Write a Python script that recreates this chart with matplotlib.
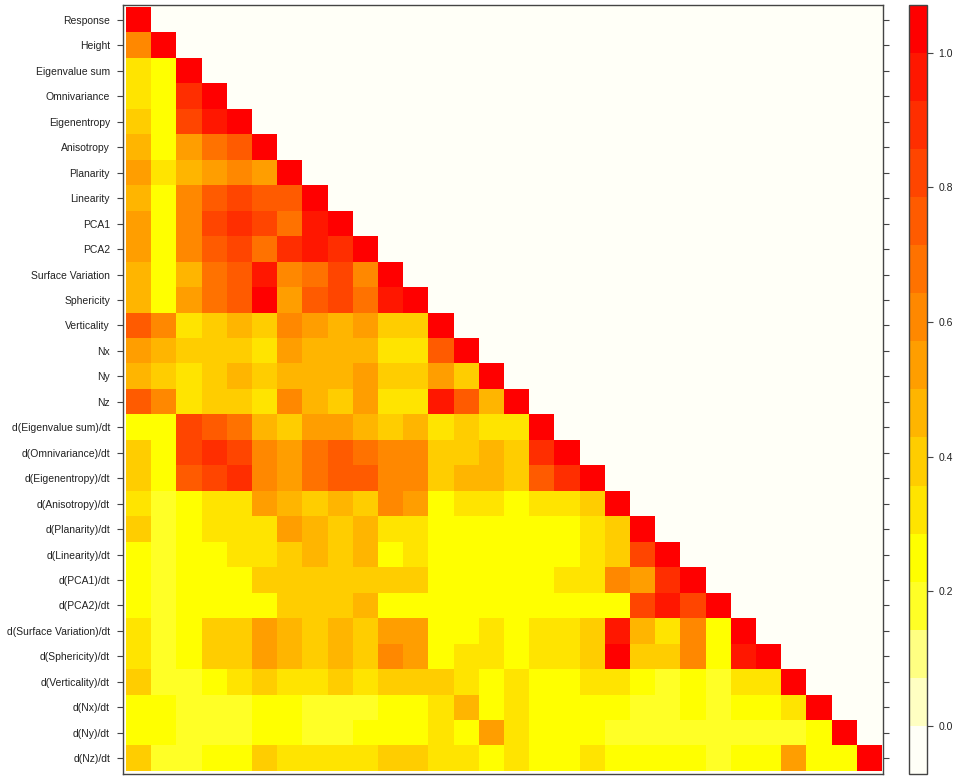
import numpy as np
import matplotlib
matplotlib.use("Agg")
import matplotlib.pyplot as plt
from matplotlib.colors import ListedColormap, BoundaryNorm

plt.rcParams['font.family'] = ['Liberation Sans', 'DejaVu Sans']

variables = [
    "Response", "Height", "Eigenvalue sum", "Omnivariance", "Eigenentropy",
    "Anisotropy", "Planarity", "Linearity", "PCA1", "PCA2",
    "Surface Variation", "Sphericity", "Verticality", "Nx", "Ny", "Nz",
    "d(Eigenvalue sum)/dt", "d(Omnivariance)/dt", "d(Eigenentropy)/dt",
    "d(Anisotropy)/dt", "d(Planarity)/dt", "d(Linearity)/dt", "d(PCA1)/dt",
    "d(PCA2)/dt", "d(Surface Variation)/dt", "d(Sphericity)/dt",
    "d(Verticality)/dt", "d(Nx)/dt", "d(Ny)/dt", "d(Nz)/dt",
]

# lower triangle of the (absolute) correlation matrix, row by row
corr_rows = [
    [1.00],
    [0.61, 1.00],
    [0.32, 0.25, 1.00],
    [0.32, 0.25, 0.89, 1.00],
    [0.39, 0.25, 0.82, 0.96, 1.00],
    [0.46, 0.25, 0.54, 0.68, 0.75, 1.00],
    [0.54, 0.32, 0.46, 0.54, 0.61, 0.54, 1.00],
    [0.46, 0.25, 0.61, 0.75, 0.82, 0.75, 0.75, 1.00],
    [0.54, 0.25, 0.61, 0.82, 0.89, 0.82, 0.68, 0.96, 1.00],
    [0.54, 0.25, 0.61, 0.75, 0.82, 0.68, 0.89, 0.96, 0.89, 1.00],
    [0.46, 0.25, 0.46, 0.68, 0.75, 0.96, 0.61, 0.68, 0.82, 0.61, 1.00],
    [0.46, 0.25, 0.54, 0.68, 0.75, 1.00, 0.54, 0.75, 0.82, 0.68, 0.96, 1.00],
    [0.75, 0.61, 0.32, 0.39, 0.46, 0.39, 0.61, 0.54, 0.46, 0.54, 0.39, 0.39, 1.00],
    [0.54, 0.46, 0.39, 0.39, 0.39, 0.32, 0.54, 0.46, 0.46, 0.46, 0.32, 0.32, 0.75, 1.00],
    [0.46, 0.39, 0.32, 0.39, 0.46, 0.39, 0.46, 0.46, 0.46, 0.54, 0.39, 0.39, 0.54, 0.39, 1.00],
    [0.75, 0.61, 0.32, 0.39, 0.39, 0.32, 0.61, 0.46, 0.39, 0.54, 0.32, 0.32, 0.96, 0.75, 0.46, 1.00],
    [0.25, 0.25, 0.82, 0.75, 0.68, 0.46, 0.39, 0.54, 0.54, 0.46, 0.39, 0.46, 0.32, 0.39, 0.32, 0.32,
     1.00],
    [0.39, 0.25, 0.82, 0.89, 0.82, 0.61, 0.54, 0.68, 0.75, 0.68, 0.61, 0.61, 0.39, 0.39, 0.46, 0.39,
     0.89, 1.00],
    [0.39, 0.25, 0.75, 0.82, 0.89, 0.61, 0.54, 0.68, 0.75, 0.75, 0.61, 0.61, 0.39, 0.46, 0.46, 0.39,
     0.75, 0.89, 1.00],
    [0.32, 0.18, 0.25, 0.32, 0.32, 0.54, 0.46, 0.39, 0.46, 0.39, 0.61, 0.54, 0.25, 0.32, 0.32, 0.25,
     0.32, 0.32, 0.39, 1.00],
    [0.39, 0.18, 0.25, 0.32, 0.32, 0.32, 0.54, 0.46, 0.39, 0.46, 0.32, 0.32, 0.25, 0.25, 0.25, 0.25,
     0.25, 0.25, 0.32, 0.39, 1.00],
    [0.25, 0.18, 0.25, 0.25, 0.32, 0.32, 0.39, 0.46, 0.39, 0.46, 0.25, 0.32, 0.25, 0.25, 0.25, 0.25,
     0.25, 0.25, 0.32, 0.39, 0.82, 1.00],
    [0.25, 0.18, 0.25, 0.25, 0.25, 0.39, 0.39, 0.39, 0.39, 0.39, 0.39, 0.39, 0.25, 0.25, 0.25, 0.25,
     0.25, 0.32, 0.32, 0.61, 0.54, 0.89, 1.00],
    [0.25, 0.18, 0.25, 0.25, 0.25, 0.25, 0.39, 0.39, 0.39, 0.46, 0.25, 0.25, 0.25, 0.25, 0.25, 0.25,
     0.25, 0.25, 0.25, 0.25, 0.82, 0.96, 0.82, 1.00],
    [0.32, 0.18, 0.25, 0.39, 0.39, 0.54, 0.46, 0.39, 0.46, 0.39, 0.54, 0.54, 0.25, 0.25, 0.32, 0.25,
     0.32, 0.32, 0.39, 0.96, 0.46, 0.32, 0.61, 0.25, 1.00],
    [0.32, 0.18, 0.25, 0.39, 0.39, 0.54, 0.46, 0.39, 0.46, 0.39, 0.61, 0.54, 0.25, 0.32, 0.32, 0.25,
     0.32, 0.32, 0.39, 1.00, 0.39, 0.39, 0.61, 0.25, 0.96, 1.00],
    [0.39, 0.18, 0.18, 0.25, 0.32, 0.39, 0.32, 0.32, 0.39, 0.32, 0.39, 0.39, 0.39, 0.32, 0.25, 0.32,
     0.25, 0.25, 0.32, 0.32, 0.25, 0.18, 0.25, 0.18, 0.32, 0.32, 1.00],
    [0.25, 0.25, 0.18, 0.18, 0.18, 0.25, 0.25, 0.18, 0.18, 0.18, 0.25, 0.25, 0.32, 0.46, 0.25, 0.32,
     0.25, 0.25, 0.25, 0.25, 0.18, 0.18, 0.25, 0.18, 0.25, 0.25, 0.32, 1.00],
    [0.25, 0.25, 0.18, 0.18, 0.18, 0.25, 0.25, 0.18, 0.18, 0.25, 0.25, 0.25, 0.32, 0.25, 0.54, 0.32,
     0.25, 0.25, 0.25, 0.18, 0.18, 0.18, 0.18, 0.18, 0.18, 0.18, 0.18, 0.25, 1.00],
    [0.39, 0.18, 0.18, 0.25, 0.25, 0.39, 0.32, 0.32, 0.32, 0.32, 0.39, 0.39, 0.32, 0.32, 0.25, 0.32,
     0.25, 0.25, 0.32, 0.25, 0.25, 0.25, 0.25, 0.18, 0.25, 0.25, 0.54, 0.25, 0.25, 1.00],
]

cbar_ticks = [0.0, 0.2, 0.4, 0.6, 0.8, 1.0]

# 16 colour bands, each 1/14 wide, from -1/14 to 15/14
band_colors = [
    '#FFFFF7', '#FFFFC2', '#FFFF82', '#FFFF26', '#FFFF00', '#FFE400',
    '#FFCD00', '#FFB500', '#FF9E00', '#FF8800', '#FF7200', '#FF5B00',
    '#FF4500', '#FF2E00', '#FF1700', '#FF0000',
]
bounds = np.arange(-1, 16) / 14.0

n = len(variables)
mat = np.full((n, n), np.nan)
for i, row in enumerate(corr_rows):
    mat[i, :len(row)] = row

cmap = ListedColormap(band_colors)
cmap.set_bad(band_colors[0])
norm = BoundaryNorm(bounds, cmap.N)

W, H = 957, 776
fig = plt.figure(figsize=(W / 100, H / 100), dpi=100)
ax = fig.add_axes([123.3 / W, 1 - 774 / H, (883 - 123.3) / W, (774 - 4.7) / H])
ax.set_facecolor(band_colors[0])

ax.imshow(mat, cmap=cmap, norm=norm, aspect='auto', interpolation='nearest')
ax.set_xlim(-0.59, n - 1 + 0.59)
ax.set_ylim(n - 1 + 0.62, -0.6)

ax.set_yticks(range(n))
ax.set_yticklabels(variables, fontsize=7.5, color='#222222')
ax.set_xticks([])
ax.tick_params(axis='y', left=True, right=True, labelright=False,
               length=4.5, width=0.8, color='#444444', pad=5)
for sp in ax.spines.values():
    sp.set_color('#444444')
    sp.set_linewidth(1.0)

# colour key
cax = fig.add_axes([909 / W, 1 - 774 / H, (927.3 - 909) / W, (774 - 4.7) / H])
cb = fig.colorbar(plt.cm.ScalarMappable(norm=norm, cmap=cmap), cax=cax,
                  boundaries=bounds, ticks=cbar_ticks, spacing='proportional')
cb.ax.set_yticklabels([f'{t:.1f}' for t in cbar_ticks], fontsize=7.5, color='#222222')
cb.ax.tick_params(length=4, width=0.8, color='#444444', pad=4)
cb.ax.minorticks_off()
cb.outline.set_edgecolor('#444444')
cb.outline.set_linewidth(1.0)

fig.savefig('out.png', dpi=100, facecolor='white')
